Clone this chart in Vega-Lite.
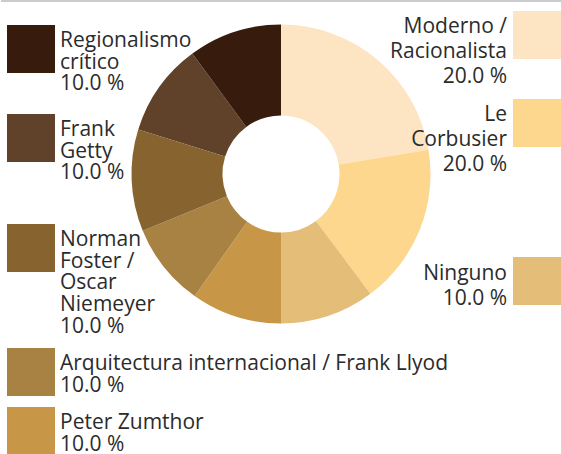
{
  "$schema": "https://vega.github.io/schema/vega-lite/v6.json",
  "width": 560,
  "height": 348,
  "autosize": {"type": "none"},
  "padding": {"left": 1, "top": 0, "right": 0, "bottom": 106},
  "background": "white",
  "data": {
    "values": [
      {"idx": 1, "label": "Moderno /|Racionalista|20.0 %", "value": 22.4},
      {"idx": 2, "label": "Le|Corbusier|20.0 %", "value": 17.4},
      {"idx": 3, "label": "Ninguno|10.0 %", "value": 10.2},
      {"idx": 4, "label": "Peter Zumthor|10.0 %", "value": 9.8},
      {"idx": 5, "label": "Arquitectura internacional / Frank Llyod|10.0 %", "value": 9.0},
      {"idx": 6, "label": "Norman|Foster /|Oscar|Niemeyer|10.0 %", "value": 11.0},
      {"idx": 7, "label": "Frank|Getty|10.0 %", "value": 10.1},
      {"idx": 8, "label": "Regionalismo|crítico|10.0 %", "value": 10.1}
    ]
  },
  "layer": [
    {
      "data": {"values": [{}]},
      "mark": {"type": "rule", "color": "#cccccc", "strokeWidth": 2},
      "encoding": {"y": {"value": 1}}
    },
    {
      "transform": [
        {"stack": "value", "groupby": [], "sort": [{"field": "idx", "order": "ascending"}], "as": ["v0", "v1"]},
        {"filter": {"field": "idx", "oneOf": [7, 8]}}
      ],
      "mark": {"type": "arc", "radius": 149.5, "innerRadius": 58.5},
      "encoding": {
        "theta": {"field": "v0", "type": "quantitative", "scale": {"domain": [0, 100]}},
        "theta2": {"field": "v1"},
        "color": {
          "field": "label", "type": "nominal",
          "scale": {"domain": ["Regionalismo|crítico|10.0 %", "Frank|Getty|10.0 %"], "range": ["#371c0d", "#5f4229"]},
          "legend": {
            "title": null, "orient": "none", "legendX": 6, "legendY": 25,
            "rowPadding": 19, "labelOffset": 5, "labelAlign": "left",
            "labelExpr": "split(datum.label, '|')",
            "encode": {"labels": {"update": {"dy": {"value": -19}, "lineHeight": {"value": 21.7}}}}
          }
        }
      }
    },
    {
      "transform": [
        {"stack": "value", "groupby": [], "sort": [{"field": "idx", "order": "ascending"}], "as": ["v0", "v1"]},
        {"filter": {"field": "idx", "oneOf": [4, 5, 6]}}
      ],
      "mark": {"type": "arc", "radius": 149.5, "innerRadius": 58.5},
      "encoding": {
        "theta": {"field": "v0", "type": "quantitative", "scale": {"domain": [0, 100]}},
        "theta2": {"field": "v1"},
        "color": {
          "field": "label", "type": "nominal",
          "scale": {"domain": ["Norman|Foster /|Oscar|Niemeyer|10.0 %", "Arquitectura internacional / Frank Llyod|10.0 %", "Peter Zumthor|10.0 %"], "range": ["#87632f", "#a88242", "#c79747"]},
          "legend": {
            "title": null, "orient": "none", "legendX": 6, "legendY": 224,
            "rowPadding": 11, "labelOffset": 5, "labelAlign": "left",
            "labelExpr": "split(datum.label, '|')",
            "encode": {"labels": {"update": {"dy": {"value": -19}, "lineHeight": {"value": 21.7}}}}
          }
        }
      }
    },
    {
      "transform": [
        {"stack": "value", "groupby": [], "sort": [{"field": "idx", "order": "ascending"}], "as": ["v0", "v1"]},
        {"filter": {"field": "idx", "oneOf": [1, 2]}}
      ],
      "mark": {"type": "arc", "radius": 149.5, "innerRadius": 58.5},
      "encoding": {
        "theta": {"field": "v0", "type": "quantitative", "scale": {"domain": [0, 100]}},
        "theta2": {"field": "v1"},
        "color": {
          "field": "label", "type": "nominal",
          "scale": {"domain": ["Moderno /|Racionalista|20.0 %", "Le|Corbusier|20.0 %"], "range": ["#fde4c3", "#fdd78d"]},
          "legend": {
            "title": null, "orient": "none", "legendX": 512, "legendY": 11,
            "rowPadding": 12, "labelOffset": -54, "labelAlign": "right",
            "labelExpr": "split(datum.label, '|')",
            "encode": {"labels": {"update": {"dy": {"value": -19}, "lineHeight": {"value": 25}}}}
          }
        }
      }
    },
    {
      "transform": [
        {"stack": "value", "groupby": [], "sort": [{"field": "idx", "order": "ascending"}], "as": ["v0", "v1"]},
        {"filter": {"field": "idx", "oneOf": [3]}}
      ],
      "mark": {"type": "arc", "radius": 149.5, "innerRadius": 58.5},
      "encoding": {
        "theta": {"field": "v0", "type": "quantitative", "scale": {"domain": [0, 100]}},
        "theta2": {"field": "v1"},
        "color": {
          "field": "label", "type": "nominal",
          "scale": {"domain": ["Ninguno|10.0 %"], "range": ["#e4bd79"]},
          "legend": {
            "title": null, "orient": "none", "legendX": 512, "legendY": 257,
            "rowPadding": 12, "labelOffset": -54, "labelAlign": "right",
            "labelExpr": "split(datum.label, '|')",
            "encode": {"labels": {"update": {"dy": {"value": -18}, "lineHeight": {"value": 25}}}}
          }
        }
      }
    }
  ],
  "resolve": {"scale": {"color": "independent"}, "legend": {"color": "independent"}},
  "config": {
    "view": {"stroke": null},
    "legend": {
      "symbolType": "square",
      "symbolSize": 2304,
      "symbolStrokeWidth": 0,
      "symbolOpacity": 1,
      "labelFont": "Open Sans",
      "labelFontSize": 21,
      "labelColor": "#2b2b2b",
      "labelLimit": 0,
      "labelBaseline": "top",
      "padding": 0,
      "offset": 0
    }
  }
}
